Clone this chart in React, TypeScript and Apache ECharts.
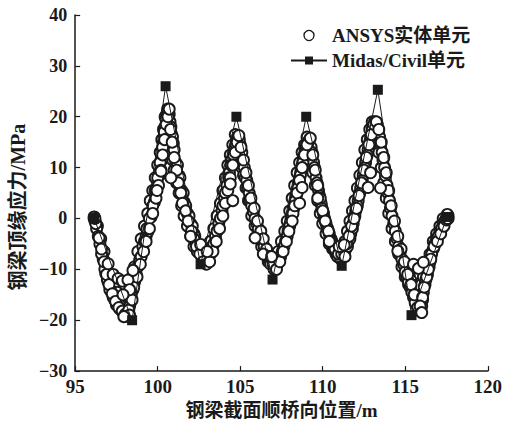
import React, { useEffect, useRef } from "react";
import * as echarts from "echarts";

const xTicks = [95, 100, 105, 110, 115, 120];
const yTicks = [-30, -20, -10, 0, 10, 20, 30, 40];

const midasX = [96.15, 98.45, 100.48, 102.6, 104.77, 106.96, 109.0, 111.15, 113.34, 115.38, 117.53];
const midasY = [0, -20, 26, -9, 20, -12, 20, -9.3, 25.3, -19, 0.3];

// ANSYS solid element results, main band
const ansysBandA: [number, number][] = [
  [96.15, 0], [96.3, -2], [96.5, -5], [96.7, -8], [96.85, -10.8], [97.0, -12.5], [97.2, -14.5], [97.4, -16],
  [97.6, -17.3], [97.8, -18], [98.0, -18.3], [98.2, -17.8], [98.35, -16.5], [98.5, -14], [98.7, -11], [98.9, -8.3],
  [99.1, -5.5], [99.3, -3.5], [99.4, -2.6], [99.6, 0.3], [99.8, 3.2], [99.95, 6], [100.1, 8.4], [100.25, 11.5],
  [100.35, 14.7], [100.45, 18], [100.55, 20.5], [100.65, 21], [100.75, 19], [100.85, 16.5], [100.95, 14.7], [101.1, 11],
  [101.3, 8.4], [101.45, 5.5], [101.6, 3.2], [101.8, 1], [102.0, -1], [102.2, -3], [102.3, -4.5], [102.5, -6],
  [102.7, -7.5], [102.9, -8.3], [103.1, -7.5], [103.3, -5.5], [103.5, -3.5], [103.7, -1], [103.9, 1.5], [104.05, 4],
  [104.2, 6.5], [104.35, 9], [104.5, 11.5], [104.65, 13.5], [104.8, 15], [104.9, 15.5], [105.0, 14.5], [105.15, 11],
  [105.3, 8], [105.45, 6], [105.6, 3.5], [105.8, 1.3], [106.0, -1], [106.2, -3], [106.35, -4.5], [106.55, -6.5],
  [106.75, -8], [106.95, -9], [107.15, -9], [107.35, -8], [107.55, -6.5], [107.75, -4.5], [107.9, -2.5], [108.1, 0],
  [108.25, 2], [108.4, 4.5], [108.55, 7], [108.7, 9.5], [108.85, 12], [109.0, 14], [109.15, 15], [109.3, 14],
  [109.45, 11], [109.6, 8], [109.75, 5.5], [109.9, 3], [110.05, 1], [110.2, -1], [110.4, -3], [110.6, -5],
  [110.8, -6.5], [111.0, -7.5], [111.2, -7.5], [111.4, -6], [111.55, -4.5], [111.7, -3], [111.85, -1], [112.0, 1.5],
  [112.15, 3.5], [112.3, 6], [112.45, 8.5], [112.6, 11], [112.75, 13.5], [112.9, 16], [113.05, 18], [113.2, 18.5],
  [113.35, 17], [113.5, 14.7], [113.65, 11.5], [113.8, 8.4], [113.95, 5], [114.1, 2], [114.3, -1], [114.5, -4],
  [114.7, -6.5], [114.9, -9], [115.1, -11.5], [115.3, -13.5], [115.5, -15.5], [115.7, -17], [115.9, -17.5], [116.05, -16],
  [116.2, -13], [116.35, -11], [116.5, -8.5], [116.7, -6], [116.9, -4], [117.1, -2.5], [117.3, -1], [117.5, 0.2], [117.6, 0.5],
];

// ANSYS solid element results, second edge of the band
const ansysBandB: [number, number][] = [
  [96.2, -0.5], [96.4, -3.5], [96.6, -7], [96.8, -10], [96.95, -12], [97.1, -14], [97.3, -15.5], [97.5, -17],
  [97.7, -17.8], [97.9, -18.5], [98.1, -18.6], [98.3, -17.2], [98.4, -15], [98.6, -12.5], [98.8, -9.5], [99.0, -7.5],
  [99.2, -4.5], [99.35, -2], [99.5, 0], [99.7, 2.5], [99.85, 5.5], [100.0, 8], [100.15, 11], [100.3, 14],
  [100.4, 17], [100.5, 19.5], [100.6, 21.5], [100.7, 20.5], [100.8, 18], [100.9, 16], [101.0, 13.5], [101.2, 10.5],
  [101.35, 8], [101.55, 5], [101.7, 2.5], [101.9, 0.5], [102.1, -1.5], [102.25, -3.5], [102.4, -5.5], [102.6, -7],
  [102.8, -8.5], [103.0, -8.5], [103.2, -7], [103.4, -5], [103.6, -2.5], [103.8, 0], [103.95, 2.5], [104.1, 5],
  [104.3, 8], [104.45, 10.5], [104.6, 12.5], [104.75, 14.5], [104.85, 16], [104.95, 15.5], [105.1, 13], [105.25, 10],
  [105.4, 7.5], [105.55, 5], [105.7, 2.5], [105.9, 0], [106.1, -2], [106.3, -4], [106.45, -5.5], [106.65, -7.5],
  [106.85, -9], [107.05, -10], [107.25, -9], [107.45, -7.5], [107.65, -5.5], [107.85, -3.5], [108.0, -1.5], [108.2, 1],
  [108.35, 3.5], [108.5, 6], [108.65, 8.5], [108.8, 11], [108.95, 13], [109.1, 15], [109.2, 15.5], [109.35, 13],
  [109.5, 10], [109.65, 7], [109.8, 4.5], [109.95, 2], [110.1, 0], [110.3, -2], [110.5, -4], [110.7, -6],
  [110.9, -7.5], [111.1, -8], [111.3, -7], [111.5, -5.5], [111.65, -4], [111.8, -2], [111.95, 0.5], [112.1, 2.5],
  [112.25, 5], [112.4, 7.5], [112.55, 10], [112.7, 12.5], [112.85, 15], [113.0, 17.5], [113.15, 19], [113.3, 18.5],
  [113.45, 16], [113.6, 13], [113.75, 10], [113.9, 6.5], [114.05, 3.5], [114.2, 0.5], [114.4, -2.5], [114.6, -5.5],
  [114.8, -8], [115.0, -10.5], [115.2, -12.5], [115.4, -14.5], [115.6, -16.5], [115.8, -18], [116.0, -17.2], [116.1, -14.5],
  [116.25, -12], [116.45, -9.5], [116.6, -7], [116.8, -5], [117.0, -3.5], [117.2, -2], [117.4, -0.5], [117.55, 0.8],
];

// ANSYS solid element results, third row of points inside the band
const ansysBandC: [number, number][] = [
  [96.25, -1], [96.45, -3.8], [96.6, -6], [96.75, -8.5], [96.9, -11], [97.05, -13], [97.25, -14.8], [97.45, -16.3],
  [97.65, -17.5], [97.85, -18.2], [98.05, -18.8], [98.25, -18], [98.45, -16], [98.55, -13.5], [98.75, -11.5], [98.95, -9],
  [99.15, -6.5], [99.3, -4.5], [99.5, -2], [99.7, 1], [99.9, 4], [100.05, 6.5], [100.2, 9.5], [100.3, 12.5],
  [100.42, 15.5], [100.52, 18.5], [100.62, 20], [100.7, 21.5], [100.78, 17.5], [100.88, 15], [101.0, 12], [101.15, 9.5],
  [101.25, 7], [101.4, 5], [101.5, 3], [101.7, 1.5], [101.85, -0.5], [102.05, -2.5], [102.2, -4], [102.35, -5.5],
  [102.55, -7], [102.75, -8.5], [102.95, -9], [103.15, -8.5], [103.35, -6.5], [103.55, -4.5], [103.75, -2], [103.95, 0.5],
  [104.1, 3], [104.25, 5.5], [104.4, 8], [104.55, 10.5], [104.7, 13], [104.82, 15], [104.92, 16.3], [105.05, 14],
  [105.2, 11.5], [105.35, 9], [105.5, 6.5], [105.65, 4], [105.85, 2], [106.05, -0.5], [106.25, -2.5], [106.4, -4],
  [106.6, -6], [106.8, -7.5], [107.0, -9], [107.2, -10], [107.4, -8.5], [107.6, -6.5], [107.8, -4.5], [107.95, -2.5],
  [108.15, -0.5], [108.3, 2.5], [108.45, 5], [108.6, 7.5], [108.75, 10], [108.9, 12.5], [109.05, 14.5], [109.25, 15.8],
  [109.4, 12.5], [109.55, 9.5], [109.7, 6.5], [109.85, 4], [110.0, 1.5], [110.15, -0.5], [110.35, -2.5], [110.55, -4.5],
  [110.75, -6], [110.95, -7], [111.15, -7], [111.35, -7.5], [111.45, -5], [111.6, -3.5], [111.75, -1.5], [111.9, 0],
  [112.05, 2], [112.2, 4.5], [112.35, 7], [112.5, 9.5], [112.65, 12], [112.8, 14.5], [112.95, 16.5], [113.1, 18.5],
  [113.25, 19], [113.4, 17.5], [113.55, 15], [113.7, 12], [113.85, 9], [114.0, 5.5], [114.15, 2.5], [114.35, -0.5],
  [114.55, -3.5], [114.75, -6], [114.95, -8.5], [115.15, -11], [115.35, -13], [115.55, -15], [115.75, -17.5], [115.95, -18.3],
  [116.05, -15.5], [116.15, -13.5], [116.3, -11.5], [116.4, -10], [116.55, -8], [116.75, -5.5], [116.95, -4.5], [117.15, -3],
  [117.35, -1.5], [117.5, -0.3], [117.6, 0],
];

// ANSYS solid element results, inner side of each peak and valley
const ansysBandD: [number, number][] = [
  [96.35, -1.5], [96.55, -4], [96.75, -6.5], [96.95, -9], [97.15, -11], [97.35, -13], [97.55, -14.5], [97.75, -15.5],
  [97.95, -16], [98.15, -15.5], [98.3, -13], [98.45, -11.5], [98.6, -9.5], [98.8, -6.5], [99.0, -4], [99.2, -1.5],
  [99.4, 1], [99.55, 3.5], [99.7, 5.5], [99.85, 8], [100.0, 10.5], [100.15, 13], [100.25, 15.5], [100.35, 17.5],
  [100.45, 20], [100.6, 18], [100.7, 16], [100.8, 13.5], [100.9, 11.5], [101.0, 9.5], [101.15, 7], [101.3, 5],
  [101.45, 2.5], [101.6, 0.5], [101.8, -1.5], [102.0, -3.5], [102.2, -5.5], [102.4, -6.5], [102.6, -6.5], [102.8, -7],
  [103.0, -6], [103.2, -4.5], [103.4, -2], [103.6, 0.5], [103.8, 3], [103.95, 5.5], [104.1, 8], [104.25, 10.5],
  [104.4, 12.5], [104.55, 14.5], [104.7, 16.5], [105.0, 12.5], [105.1, 10], [105.2, 8.5], [105.35, 6], [105.5, 3.5],
  [105.7, 0.5], [105.9, -1.5], [106.1, -3.5], [106.3, -5.5], [106.5, -7], [106.7, -8.5], [106.9, -7.8], [107.1, -7.5],
  [107.3, -6.5], [107.5, -4.5], [107.7, -2.5], [107.85, -0.5], [108.0, 1.5], [108.15, 4], [108.3, 6.5], [108.45, 9],
  [108.6, 11], [108.75, 13], [108.9, 14.5], [109.05, 16], [109.3, 11.5], [109.4, 9], [109.55, 6.5], [109.7, 3.5],
  [109.85, 1], [110.0, -1], [110.2, -3], [110.4, -5], [110.6, -6], [110.8, -7], [111.0, -6.5], [111.2, -6],
  [111.35, -4.5], [111.5, -2.5], [111.65, -0.5], [111.8, 1.5], [111.95, 3.5], [112.1, 6], [112.25, 8.5], [112.4, 11],
  [112.55, 13.5], [112.7, 15.5], [112.85, 17.5], [113.0, 19], [113.3, 15.5], [113.4, 13], [113.55, 10], [113.7, 7],
  [113.85, 4], [114.0, 1], [114.2, -2], [114.4, -4.5], [114.6, -7], [114.8, -9.5], [115.0, -11.5], [115.2, -13],
  [115.4, -12], [115.6, -11], [115.7, -10], [115.9, -11], [116.1, -11.5], [116.3, -9], [116.5, -7], [116.7, -4.5],
  [116.9, -3], [117.1, -1.5], [117.3, 0],
];

// ANSYS solid element results, scattered points off the main band
const ansysScatter: [number, number][] = [
  [96.15, 0.3], [96.2, 0], [97.0, -8.9], [97.3, -11], [97.6, -11.8], [97.85, -12.3], [98.2, -12.1], [98.5, -10.2],
  [98.3, -14], [97.9, -15], [98.15, -19.2], [98.3, -19], [97.95, -19.3], [99.96, 5.5], [100.2, 9.3], [100.8, 8],
  [102.0, -3.5], [102.6, -5.1], [103.0, -6.5], [104.4, 6.8], [104.55, 3.5], [105.9, -3.8], [106.4, -7], [106.9, -7.5],
  [108.75, 6.1], [108.6, 3], [109.7, 4], [110.4, -4.5], [111.0, -5.5], [111.3, -5.2], [112.75, 6.1], [112.9, 9],
  [113.5, 6], [114.55, -6.4], [115.5, -9], [115.8, -9.8], [116.1, -8.6], [115.9, -17.2], [116.0, -18.5], [117.55, 0],
];

const ANSYS_NAME = "ANSYS实体单元";
const MIDAS_NAME = "Midas/Civil单元";
const FONT = '"Liberation Serif", "Noto Sans CJK SC", serif';
const INK = "#1a1a1a";

export default function App() {
  const ref = useRef<HTMLDivElement>(null);
  useEffect(() => {
    if (!ref.current) return;
    const chart = echarts.init(ref.current, undefined, { renderer: "svg" });
    const fmt = (v: number) => String(v).replace("-", "\u2212");
    const ansysData = [...ansysBandD, ...ansysBandA, ...ansysBandB, ...ansysBandC, ...ansysScatter];
    chart.setOption({
      animation: false,
      backgroundColor: "#ffffff",
      grid: { left: 70, top: 15, width: 418, height: 365, containLabel: false },
      legend: {
        orient: "vertical",
        left: 285,
        top: 21,
        itemWidth: 36,
        itemHeight: 10,
        itemGap: 6,
        textStyle: { fontFamily: FONT, fontWeight: "bold", fontSize: 19, color: INK },
        data: [{ name: ANSYS_NAME, icon: "circle", itemStyle: { borderWidth: 1.3 } }, { name: MIDAS_NAME }],
      },
      xAxis: {
        type: "value",
        min: xTicks[0],
        max: xTicks[xTicks.length - 1],
        interval: 5,
        name: "钢梁截面顺桥向位置/m",
        nameLocation: "middle",
        nameGap: 22,
        nameTextStyle: { fontFamily: FONT, fontWeight: "bold", fontSize: 19, color: INK },
        axisLine: { show: true, onZero: false, lineStyle: { color: INK, width: 1.5 } },
        axisTick: { show: true, inside: true, length: 5, lineStyle: { color: INK, width: 1.2 } },
        axisLabel: { fontFamily: FONT, fontWeight: "bold", fontSize: 19, color: INK, margin: 6, formatter: fmt },
        splitLine: { show: false },
      },
      yAxis: {
        type: "value",
        min: yTicks[0],
        max: yTicks[yTicks.length - 1],
        interval: 10,
        name: "钢梁顶缘应力/MPa",
        nameLocation: "middle",
        nameRotate: 90,
        nameGap: 35,
        nameTextStyle: { fontFamily: FONT, fontWeight: "bold", fontSize: 20, color: INK, padding: [0, 28, 0, 0] },
        axisLine: { show: true, onZero: false, lineStyle: { color: INK, width: 1.5 } },
        axisTick: { show: true, inside: true, length: 5, lineStyle: { color: INK, width: 1.2 } },
        axisLabel: { fontFamily: FONT, fontWeight: "bold", fontSize: 18, color: INK, margin: 8, formatter: fmt },
        splitLine: { show: false },
      },
      series: [
        {
          name: ANSYS_NAME,
          type: "scatter",
          symbol: "circle",
          symbolSize: 11,
          data: ansysData,
          itemStyle: { color: "#ffffff", borderColor: INK, borderWidth: 1.9, opacity: 1 },
          z: 2,
        },
        {
          name: MIDAS_NAME,
          type: "line",
          symbol: "rect",
          symbolSize: 10,
          data: midasX.map((x, i) => [x, midasY[i]]),
          lineStyle: { color: INK, width: 1 },
          itemStyle: { color: INK },
          z: 3,
        },
      ],
    });
    return () => chart.dispose();
  }, []);
  return (
    <div
      ref={ref}
      style={{ position: "fixed", left: 0, top: 0, width: 505, height: 425, background: "#fff" }}
    />
  );
}
